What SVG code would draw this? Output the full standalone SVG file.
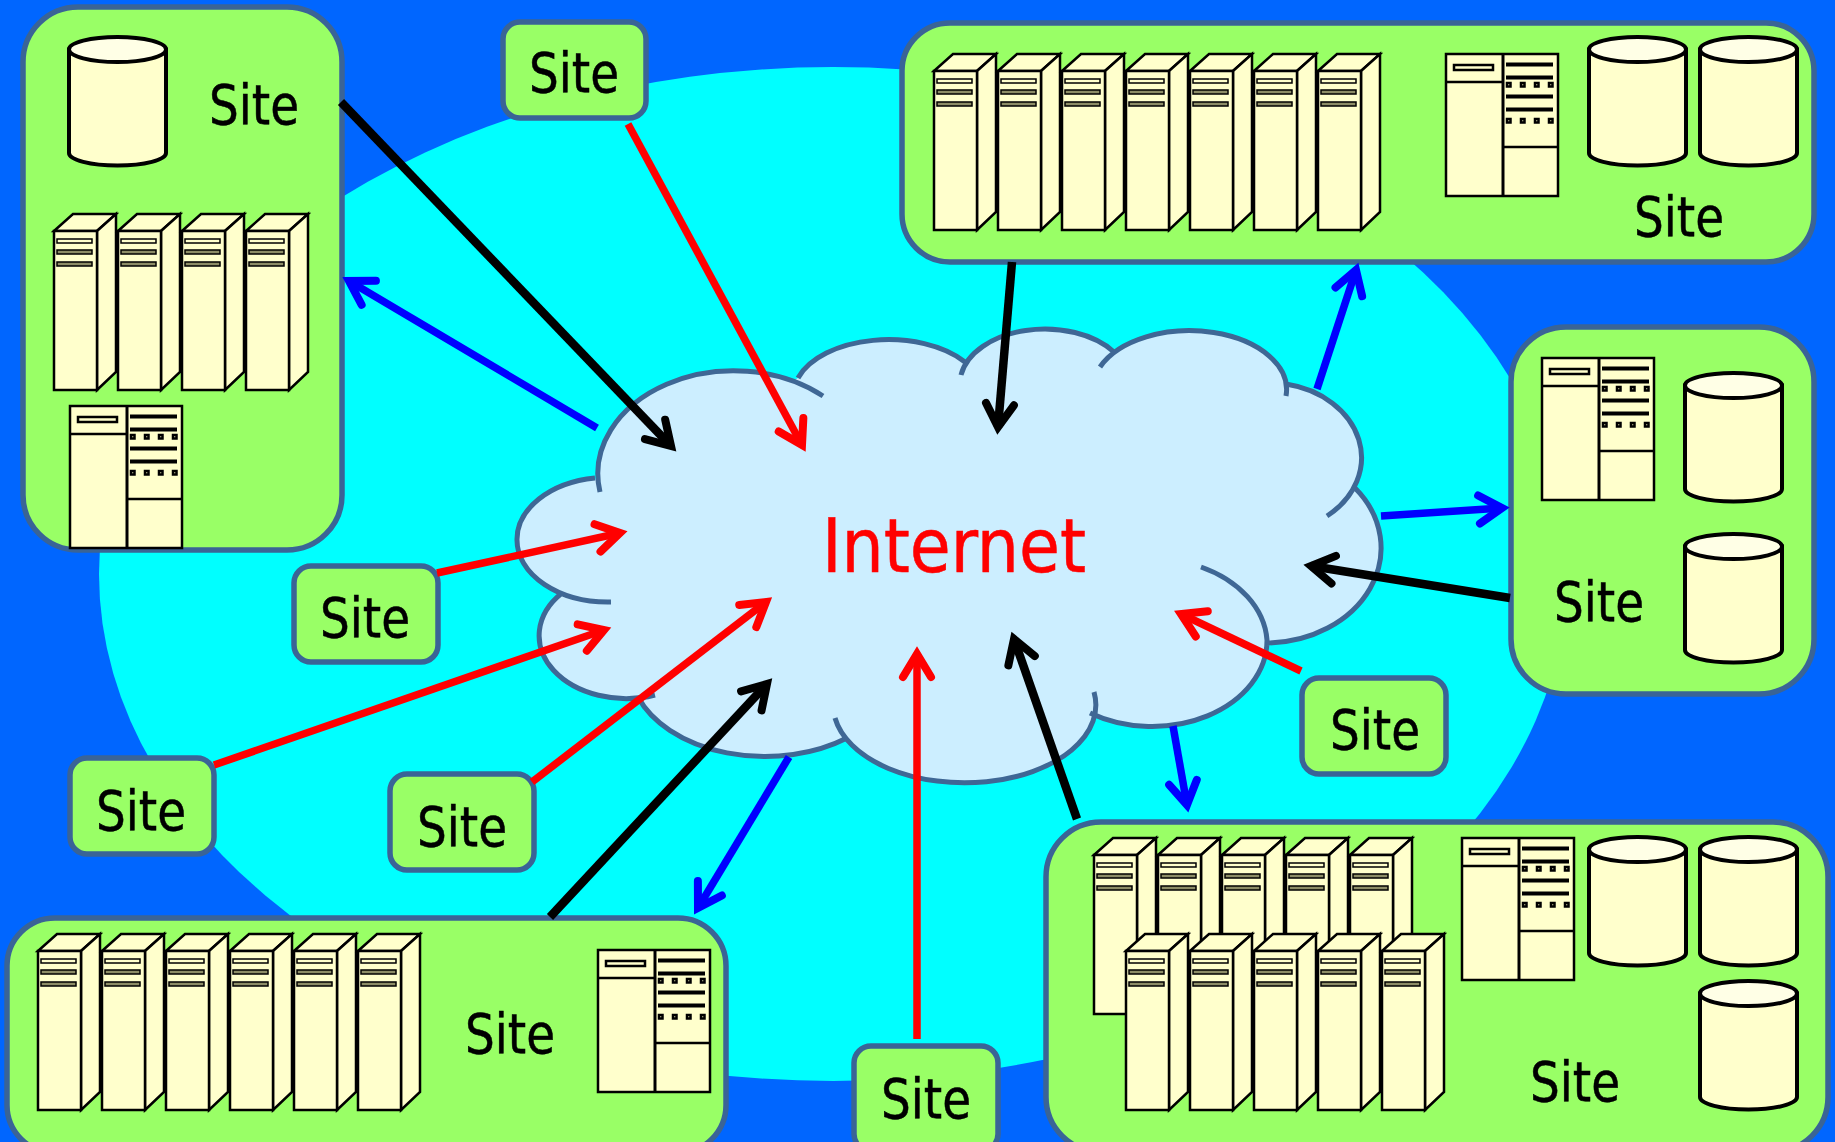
<svg xmlns="http://www.w3.org/2000/svg" xmlns:xlink="http://www.w3.org/1999/xlink" width="1835" height="1142" viewBox="0 0 1835 1142">
<style>
.panel{fill:#99ff66;stroke:#3a6496;stroke-width:5.500}
.lbl{font-family:"DejaVu Sans",sans-serif;font-stretch:condensed;font-size:56px;fill:#000;stroke:#000;stroke-width:0.500;text-anchor:middle}
.eq{fill:#ffffcc;stroke:#000;stroke-width:2.500}
.cyl{fill:#ffffcc;stroke:#000;stroke-width:4}
.slot{fill:#8c8c66;stroke:#000;stroke-width:1.500}
.bar{fill:#000}
.sq{fill:#ffffcc;stroke:#000;stroke-width:2.500}
.cn{fill:none;stroke-width:7.500}
.red{stroke:#ff0000}.blk{stroke:#000;stroke-width:8.500}.blu{stroke:#0000ff}
.rm{marker-end:url(#hr)}.km{marker-end:url(#hk)}.bm{marker-end:url(#hb)}
</style>
<defs>
<marker id="hr" markerUnits="userSpaceOnUse" markerWidth="50" markerHeight="50" refX="30" refY="25" orient="auto" overflow="visible"><path d="M7,11 L30,25 L7,39" fill="none" stroke="#ff0000" stroke-width="8" stroke-linecap="round"/></marker>
<marker id="hk" markerUnits="userSpaceOnUse" markerWidth="50" markerHeight="50" refX="30" refY="25" orient="auto" overflow="visible"><path d="M7,11 L30,25 L7,39" fill="none" stroke="#000" stroke-width="8" stroke-linecap="round"/></marker>
<marker id="hb" markerUnits="userSpaceOnUse" markerWidth="50" markerHeight="50" refX="30" refY="25" orient="auto" overflow="visible"><path d="M7,11 L30,25 L7,39" fill="none" stroke="#0000ff" stroke-width="8" stroke-linecap="round"/></marker>
<g id="server">
<path class="eq" d="M0,17 L19,0 H62 L43,17 Z"/>
<path class="eq" d="M43,17 L62,0 V158 L43,176 Z"/>
<rect class="eq" x="0" y="17" width="43" height="159"/>
<rect x="3" y="25" width="35" height="4" class="slot" style="fill:#ffffcc"/>
<rect x="3" y="36" width="35" height="4" class="slot"/>
<rect x="3" y="48" width="35" height="4" class="slot"/>
</g>
<g id="cylinder">
<path class="cyl" d="M0,12.500 V116 A48.500 12.500 0 0 0 97,116 V12.500 Z"/>
<ellipse cx="48.500" cy="12.500" rx="48.500" ry="12.500" class="cyl" style="fill:#ffffe6"/>
</g>
<g id="rack">
<rect class="eq" x="0" y="0" width="112" height="142"/>
<path d="M57,0 V142" stroke="#000" stroke-width="3" fill="none"/>
<path d="M0,28 H57 M57,93 H112" stroke="#000" stroke-width="2.500" fill="none"/>
<rect class="eq" x="8" y="11" width="39" height="5"/>
<rect class="bar" x="60" y="8.500" width="47" height="4"/>
<rect class="bar" x="60" y="21.500" width="47" height="4"/>
<rect class="bar" x="60" y="40.500" width="47" height="4"/>
<rect class="bar" x="60" y="53.500" width="47" height="4"/>
<rect class="sq" x="61" y="29" width="3.500" height="3.500"/><rect class="sq" x="75" y="29" width="3.500" height="3.500"/><rect class="sq" x="89" y="29" width="3.500" height="3.500"/><rect class="sq" x="103" y="29" width="3.500" height="3.500"/>
<rect class="sq" x="61" y="65" width="3.500" height="3.500"/><rect class="sq" x="75" y="65" width="3.500" height="3.500"/><rect class="sq" x="89" y="65" width="3.500" height="3.500"/><rect class="sq" x="103" y="65" width="3.500" height="3.500"/>
</g>
</defs>
<rect x="0" y="0" width="1835" height="1142" fill="#0066ff"/>
<ellipse id="cloud-halo" cx="833" cy="574" rx="734" ry="507" fill="#00ffff"/>
<g id="internet">
<path fill="#cceeff" d="M600,489 L798,378 L965,362 L1114,352 L1270,390 L1286,384 L1327,516 L1355,488 L1266,643 L1090,713 L847,738 L638,697 L562,593 L595,478 Z M600,492 A136 103 0 0 1 823,396 Z M798,378 A95 55 0 0 1 965,362 Z M961,375 A85 55 0 0 1 1114,352 Z M1100,367 A97 59 0 0 1 1286,396 Z M1286,384 A93 75 0 0 1 1327,516 Z M1355,488 A116 95 0 0 1 1266,643 Z M1201,567 A115 86 0 0 1 1267,640 A115 86 0 0 1 1090,713 Z M1094,692 A130 77 0 0 1 835,718 Z M847,738 A135 90 0 0 1 638,697 Z M655,695 A87 63 0 0 1 562,593 Z M611,602 A91 62 0 0 1 517,540 A91 62 0 0 1 595,478 Z"/>
<path fill="none" stroke="#3f6795" stroke-width="5" d="M600,492 A136 103 0 0 1 823,396 M798,378 A95 55 0 0 1 965,362 M961,375 A85 55 0 0 1 1114,352 M1100,367 A97 59 0 0 1 1286,396 M1286,384 A93 75 0 0 1 1327,516 M1355,488 A116 95 0 0 1 1266,643 M1201,567 A115 86 0 0 1 1267,640 A115 86 0 0 1 1090,713 M1094,692 A130 77 0 0 1 835,718 M847,738 A135 90 0 0 1 638,697 M655,695 A87 63 0 0 1 562,593 M611,602 A91 62 0 0 1 517,540 A91 62 0 0 1 595,478"/>
<text x="954" y="572" textLength="264" lengthAdjust="spacingAndGlyphs" style="font-family:'DejaVu Sans',sans-serif;font-stretch:condensed;font-size:75px;fill:#ff0000;stroke:#ff0000;stroke-width:0.500;text-anchor:middle">Internet</text>
</g>
<g id="site-top-left">
<rect class="panel" x="23" y="7" width="319" height="543" rx="55"/>
<use xlink:href="#cylinder" x="69" y="37"/>
<use xlink:href="#server" x="54" y="214"/><use xlink:href="#server" x="118" y="214"/><use xlink:href="#server" x="182" y="214"/><use xlink:href="#server" x="246" y="214"/>
<use xlink:href="#rack" x="70" y="406"/>
<text class="lbl" x="254" y="124" textLength="90" lengthAdjust="spacingAndGlyphs">Site</text>
</g>
<g id="site-top-right">
<rect class="panel" x="902" y="23" width="912" height="239" rx="48"/>
<use xlink:href="#server" x="934" y="54"/><use xlink:href="#server" x="998" y="54"/><use xlink:href="#server" x="1062" y="54"/><use xlink:href="#server" x="1126" y="54"/><use xlink:href="#server" x="1190" y="54"/><use xlink:href="#server" x="1254" y="54"/><use xlink:href="#server" x="1318" y="54"/>
<use xlink:href="#rack" x="1446" y="54"/>
<use xlink:href="#cylinder" x="1589" y="37"/><use xlink:href="#cylinder" x="1700" y="37"/>
<text class="lbl" x="1679" y="236" textLength="90" lengthAdjust="spacingAndGlyphs">Site</text>
</g>
<g id="site-right">
<rect class="panel" x="1511" y="327" width="303" height="367" rx="55"/>
<use xlink:href="#rack" x="1542" y="358"/>
<use xlink:href="#cylinder" x="1685" y="373"/><use xlink:href="#cylinder" x="1685" y="534"/>
<text class="lbl" x="1599" y="621" textLength="90" lengthAdjust="spacingAndGlyphs">Site</text>
</g>
<g id="site-bottom-right">
<rect class="panel" x="1046" y="822" width="782" height="330" rx="55"/>
<use xlink:href="#server" x="1094" y="838"/><use xlink:href="#server" x="1158" y="838"/><use xlink:href="#server" x="1222" y="838"/><use xlink:href="#server" x="1286" y="838"/><use xlink:href="#server" x="1350" y="838"/>
<use xlink:href="#server" x="1126" y="934"/><use xlink:href="#server" x="1190" y="934"/><use xlink:href="#server" x="1254" y="934"/><use xlink:href="#server" x="1318" y="934"/><use xlink:href="#server" x="1382" y="934"/>
<use xlink:href="#rack" x="1462" y="838"/>
<use xlink:href="#cylinder" x="1589" y="837"/><use xlink:href="#cylinder" x="1700" y="837"/><use xlink:href="#cylinder" x="1700" y="981"/>
<text class="lbl" x="1575" y="1101" textLength="90" lengthAdjust="spacingAndGlyphs">Site</text>
</g>
<g id="site-bottom-left">
<rect class="panel" x="7" y="918" width="719" height="235" rx="48"/>
<use xlink:href="#server" x="38" y="934"/><use xlink:href="#server" x="102" y="934"/><use xlink:href="#server" x="166" y="934"/><use xlink:href="#server" x="230" y="934"/><use xlink:href="#server" x="294" y="934"/><use xlink:href="#server" x="358" y="934"/>
<use xlink:href="#rack" x="598" y="950"/>
<text class="lbl" x="510" y="1053" textLength="90" lengthAdjust="spacingAndGlyphs">Site</text>
</g>
<g id="site-a"><rect class="panel" x="503" y="22" width="143" height="96" rx="17"/><text class="lbl" x="574" y="92" textLength="90" lengthAdjust="spacingAndGlyphs">Site</text></g>
<g id="site-b"><rect class="panel" x="294" y="566" width="144" height="96" rx="17"/><text class="lbl" x="365" y="637" textLength="90" lengthAdjust="spacingAndGlyphs">Site</text></g>
<g id="site-c"><rect class="panel" x="70" y="758" width="144" height="96" rx="17"/><text class="lbl" x="141" y="830" textLength="90" lengthAdjust="spacingAndGlyphs">Site</text></g>
<g id="site-d"><rect class="panel" x="390" y="774" width="144" height="96" rx="17"/><text class="lbl" x="462" y="846" textLength="90" lengthAdjust="spacingAndGlyphs">Site</text></g>
<g id="site-e"><rect class="panel" x="1302" y="678" width="144" height="96" rx="17"/><text class="lbl" x="1375" y="749" textLength="90" lengthAdjust="spacingAndGlyphs">Site</text></g>
<g id="site-f"><rect class="panel" x="854" y="1046" width="144" height="105" rx="17"/><text class="lbl" x="926" y="1118" textLength="90" lengthAdjust="spacingAndGlyphs">Site</text></g>
<g id="connectors">
<line class="cn blk km" x1="341" y1="102" x2="671" y2="446"/>
<line class="cn red rm" x1="628" y1="124" x2="802" y2="445"/>
<line class="cn blu bm" x1="597" y1="428" x2="349" y2="281"/>
<line class="cn blk km" x1="1012" y1="262" x2="998" y2="427"/>
<line class="cn blu bm" x1="1317" y1="389" x2="1356" y2="270"/>
<line class="cn blu bm" x1="1381" y1="516" x2="1502" y2="508"/>
<line class="cn blk km" x1="1510" y1="598" x2="1311" y2="566"/>
<line class="cn red rm" x1="1301" y1="671" x2="1181" y2="614"/>
<line class="cn blu bm" x1="1173" y1="726" x2="1187" y2="805"/>
<line class="cn blk km" x1="1077" y1="819" x2="1014" y2="639"/>
<line class="cn red rm" x1="917" y1="1039" x2="917" y2="654"/>
<line class="cn blk km" x1="550" y1="917" x2="767" y2="684"/>
<line class="cn blu bm" x1="789" y1="757" x2="698" y2="908"/>
<line class="cn red rm" x1="532" y1="782" x2="766" y2="602"/>
<line class="cn red rm" x1="214" y1="765" x2="604" y2="630"/>
<line class="cn red rm" x1="437" y1="573" x2="620" y2="533"/>
</g>
</svg>
